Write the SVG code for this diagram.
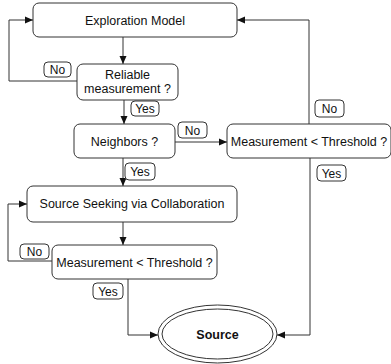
<svg xmlns="http://www.w3.org/2000/svg" width="391" height="364" viewBox="0 0 391 364">
<defs>
<marker id="ah" viewBox="0 0 8 8" refX="8" refY="4" markerWidth="8" markerHeight="8" markerUnits="userSpaceOnUse" orient="auto">
<path d="M0,0.5 L8,4 L0,7.5 Z" fill="#111"/>
</marker>
</defs>
<style>
.box{fill:#fff;stroke:#333;stroke-width:1}
.lbl{fill:#fff;stroke:#333;stroke-width:1}
.t{font-family:"Liberation Sans",Arial,sans-serif;font-size:12.5px;fill:#111;text-anchor:middle}
.lt{font-family:"Liberation Sans",Arial,sans-serif;font-size:12px;fill:#111;text-anchor:middle}
.c{fill:none;stroke:#333;stroke-width:1;marker-end:url(#ah)}
</style>
<rect width="391" height="364" fill="#fff"/>
<g id="connectors">
<path class="c" d="M123,37 V64"/>
<path class="c" d="M77,81 H9 V20 H33"/>
<path class="c" d="M124,100 V124"/>
<path class="c" d="M175,142 H227"/>
<path class="c" d="M309,124 V20 H237"/>
<path class="c" d="M123,158 V186"/>
<path class="c" d="M123,222 V245"/>
<path class="c" d="M52,261 H8 V204 H27"/>
<path class="c" d="M128,279 V335 H158"/>
<path class="c" d="M310,158 V335 H277"/>
</g>
<g id="exploration">
<rect class="box" x="33" y="3" width="204" height="34" rx="6"/>
<text class="t" x="135" y="24.5">Exploration Model</text>
</g>
<g id="reliable">
<rect class="box" x="77" y="64" width="101" height="36" rx="6"/>
<text class="t" x="127.5" y="79">Reliable</text>
<text class="t" x="127.5" y="93">measurement ?</text>
</g>
<g id="neighbors">
<rect class="box" x="74" y="124" width="101" height="34" rx="6"/>
<text class="t" x="124.5" y="145.5">Neighbors ?</text>
</g>
<g id="threshold-right">
<rect class="box" x="227" y="124" width="164" height="34" rx="6"/>
<text class="t" x="309" y="145.5">Measurement &lt; Threshold ?</text>
</g>
<g id="source-seeking">
<rect class="box" x="27" y="186" width="210" height="36" rx="6"/>
<text class="t" x="132" y="208">Source Seeking via Collaboration</text>
</g>
<g id="threshold-lower">
<rect class="box" x="52" y="245" width="165" height="34" rx="6"/>
<text class="t" x="134.5" y="266.5">Measurement &lt; Threshold ?</text>
</g>
<g id="source">
<ellipse cx="217.5" cy="334" rx="59.5" ry="29" fill="#fff" stroke="#333" stroke-width="1"/>
<ellipse cx="217.5" cy="334" rx="55.5" ry="25" fill="none" stroke="#333" stroke-width="1"/>
<text class="t" x="217.5" y="338.5" font-weight="bold">Source</text>
</g>
<g id="labels">
<rect class="lbl" x="44" y="62" width="27" height="15" rx="4"/>
<text class="lt" x="57.5" y="73.5">No</text>
<rect class="lbl" x="131" y="101" width="28" height="15" rx="4"/>
<text class="lt" x="145" y="112.5">Yes</text>
<rect class="lbl" x="178" y="122" width="29" height="16" rx="4"/>
<text class="lt" x="192.5" y="134.5">No</text>
<rect class="lbl" x="315" y="100" width="29" height="17" rx="4"/>
<text class="lt" x="329.5" y="113">No</text>
<rect class="lbl" x="317" y="165" width="29" height="16" rx="4"/>
<text class="lt" x="331.5" y="177.5">Yes</text>
<rect class="lbl" x="125" y="163" width="30" height="17" rx="4"/>
<text class="lt" x="140" y="176">Yes</text>
<rect class="lbl" x="20" y="244" width="29" height="15" rx="4"/>
<text class="lt" x="34.5" y="255.5">No</text>
<rect class="lbl" x="93" y="283" width="30" height="16" rx="4"/>
<text class="lt" x="108" y="295.5">Yes</text>
</g>
</svg>
